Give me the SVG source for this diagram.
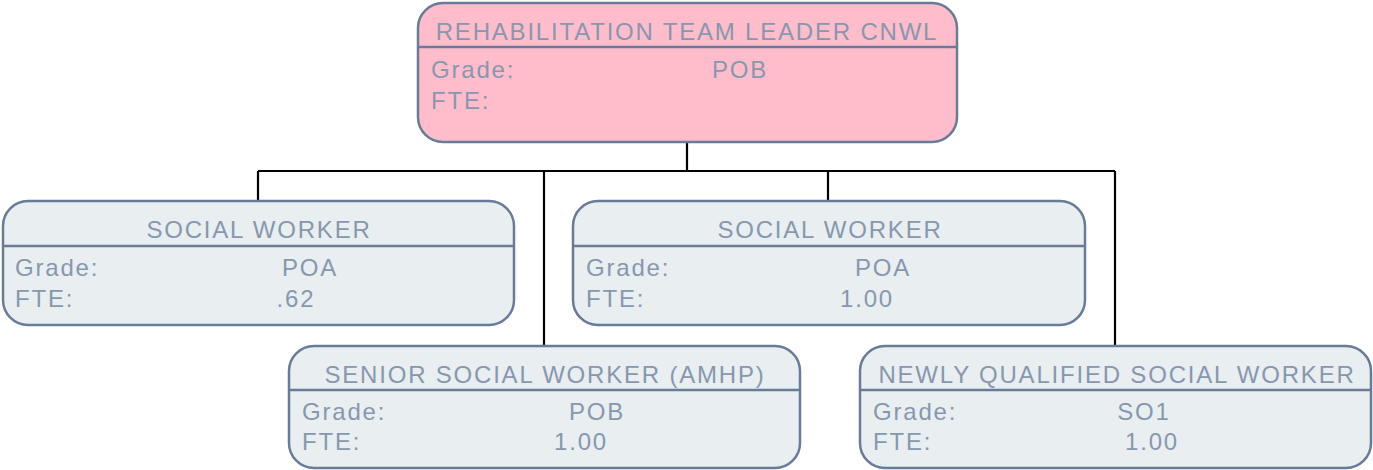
<svg xmlns="http://www.w3.org/2000/svg" width="1373" height="470" viewBox="0 0 1373 470">
<style>
.box{stroke:#687c9a;stroke-width:2.5}
.pink{fill:#ffbccb}
.grey{fill:#e9eef1}
.div{stroke:#687c9a;stroke-width:2.5}
text{font-family:"Liberation Sans",Arial,sans-serif;font-size:24px;fill:#8698ae;letter-spacing:1.8px}
.t{text-anchor:middle}
.v{text-anchor:middle}
.conn{stroke:#000;stroke-width:2.2;fill:none}
</style>
<rect width="1373" height="470" fill="#fff"/>
<g id="connectors">
<path class="conn" d="M687 142V171M258 171H1115M258 171V201M544 171V346M828 171V201M1115 171V346"/>
</g>
<g id="n0">
<rect class="box pink" x="418" y="3" width="539" height="139" rx="25"/>
<line class="div" x1="418" y1="47" x2="957" y2="47"/>
<text class="t" x="687" y="40">REHABILITATION TEAM LEADER CNWL</text>
<text x="431" y="78">Grade:</text>
<text class="v" x="740" y="78">POB</text>
<text x="431" y="109">FTE:</text>
</g>
<g id="n1">
<rect class="box grey" x="3" y="201" width="511" height="124" rx="25"/>
<line class="div" x1="3" y1="246" x2="514" y2="246"/>
<text class="t" x="259" y="238">SOCIAL WORKER</text>
<text x="15" y="276">Grade:</text>
<text class="v" x="310" y="276">POA</text>
<text x="15" y="307">FTE:</text>
<text class="v" x="296" y="307">.62</text>
</g>
<g id="n2">
<rect class="box grey" x="573" y="201" width="512" height="124" rx="25"/>
<line class="div" x1="573" y1="246" x2="1085" y2="246"/>
<text class="t" x="830" y="238">SOCIAL WORKER</text>
<text x="586" y="276">Grade:</text>
<text class="v" x="883" y="276">POA</text>
<text x="586" y="307">FTE:</text>
<text class="v" x="867" y="307">1.00</text>
</g>
<g id="n3">
<rect class="box grey" x="289" y="346" width="511" height="122" rx="25"/>
<line class="div" x1="289" y1="390" x2="800" y2="390"/>
<text class="t" x="545" y="383">SENIOR SOCIAL WORKER (AMHP)</text>
<text x="302" y="420">Grade:</text>
<text class="v" x="597" y="420">POB</text>
<text x="302" y="450">FTE:</text>
<text class="v" x="581" y="450">1.00</text>
</g>
<g id="n4">
<rect class="box grey" x="860" y="346" width="511" height="122" rx="25"/>
<line class="div" x1="860" y1="390" x2="1371" y2="390"/>
<text class="t" x="1117" y="383">NEWLY QUALIFIED SOCIAL WORKER</text>
<text x="873" y="420">Grade:</text>
<text class="v" x="1144" y="420">SO1</text>
<text x="873" y="450">FTE:</text>
<text class="v" x="1152" y="450">1.00</text>
</g>
</svg>
